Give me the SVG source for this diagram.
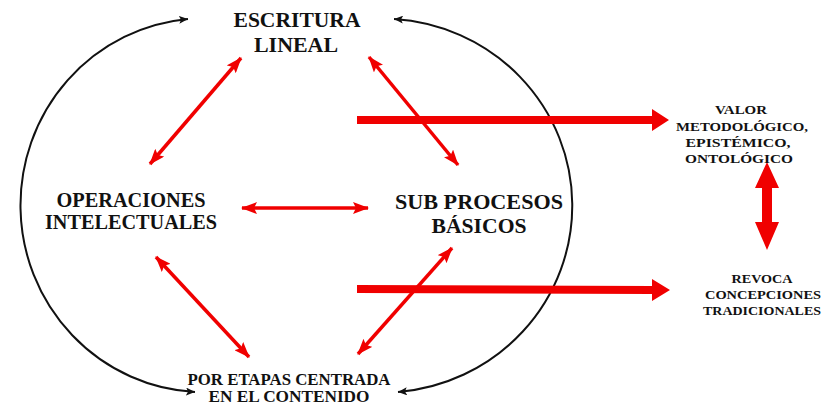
<svg xmlns="http://www.w3.org/2000/svg" width="823" height="404" viewBox="0 0 823 404">
<style>
text{font-family:'Liberation Serif','DejaVu Serif','Noto Serif',serif;font-weight:bold;fill:#111;text-anchor:middle}
.big{font-size:21px}
.mid{font-size:20px}
.sm{font-size:13px}
.por{font-size:16px}
.thin{stroke:#f00000;stroke-width:3.5;fill:none}
.arc{stroke:#111;stroke-width:2;fill:none}
.thick{fill:#f00000}
</style>
<defs>
<marker id="rh" viewBox="0 0 16 12" refX="15" refY="6" markerWidth="16" markerHeight="12" markerUnits="userSpaceOnUse" orient="auto-start-reverse">
<path d="M0,0 L16,6 L0,12 L3,6 z" fill="#f00000"/>
</marker>
<marker id="bh" viewBox="0 0 9 8" refX="9" refY="4" markerWidth="9" markerHeight="8" markerUnits="userSpaceOnUse" orient="auto-start-reverse">
<path d="M0,0 L9,4 L0,8 L2,4 z" fill="#111"/>
</marker>
</defs>
<rect width="823" height="404" fill="#fff"/>
<g id="connectors">
<path class="arc" d="M188,19 A184 187 0 0 0 195,392" marker-start="url(#bh)" marker-end="url(#bh)"/>
<path class="arc" d="M394,19 A190 187 0 0 1 398,392" marker-start="url(#bh)" marker-end="url(#bh)"/>
<line class="thin" x1="241" y1="58" x2="150" y2="164" marker-start="url(#rh)" marker-end="url(#rh)"/>
<line class="thin" x1="369" y1="57" x2="458" y2="165" marker-start="url(#rh)" marker-end="url(#rh)"/>
<line class="thin" x1="242" y1="208" x2="368" y2="208" marker-start="url(#rh)" marker-end="url(#rh)"/>
<line class="thin" x1="156" y1="257" x2="249" y2="357" marker-start="url(#rh)" marker-end="url(#rh)"/>
<line class="thin" x1="452" y1="248" x2="358" y2="354" marker-start="url(#rh)" marker-end="url(#rh)"/>
<polygon class="thick" points="357,116 652,116 652,109 669,120 652,131 652,124 357,124"/>
<polygon class="thick" points="357,285 652,286 652,279 670,290 652,301 652,294 357,293"/>
<polygon class="thick" points="767,162 779,188 772,188 772,222 779,222 767,250 755,222 762,222 762,188 755,188"/>
</g>
<g id="escritura"><text class="big" x="297" y="27" textLength="127" lengthAdjust="spacingAndGlyphs">ESCRITURA</text><text class="big" x="296" y="52" textLength="84" lengthAdjust="spacingAndGlyphs">LINEAL</text></g>
<g id="operaciones"><text class="mid" x="131" y="207" textLength="149" lengthAdjust="spacingAndGlyphs">OPERACIONES</text><text class="mid" x="131" y="229" textLength="172" lengthAdjust="spacingAndGlyphs">INTELECTUALES</text></g>
<g id="subprocesos"><text class="big" x="479" y="209" textLength="168" lengthAdjust="spacingAndGlyphs">SUB PROCESOS</text><text class="big" x="479" y="233" textLength="95" lengthAdjust="spacingAndGlyphs">BÁSICOS</text></g>
<g id="poretapas"><text class="por" x="289" y="385" textLength="203" lengthAdjust="spacingAndGlyphs">POR ETAPAS CENTRADA</text><text class="por" x="289" y="402" textLength="161" lengthAdjust="spacingAndGlyphs">EN EL CONTENIDO</text></g>
<g id="valor"><text class="sm" x="741" y="114" textLength="52" lengthAdjust="spacingAndGlyphs">VALOR</text><text class="sm" x="742" y="131" textLength="132" lengthAdjust="spacingAndGlyphs">METODOLÓGICO,</text><text class="sm" x="738" y="147" textLength="105" lengthAdjust="spacingAndGlyphs">EPISTÉMICO,</text><text class="sm" x="739" y="163" textLength="108" lengthAdjust="spacingAndGlyphs">ONTOLÓGICO</text></g>
<g id="revoca"><text class="sm" x="762" y="283" textLength="61" lengthAdjust="spacingAndGlyphs">REVOCA</text><text class="sm" x="763" y="299" textLength="116" lengthAdjust="spacingAndGlyphs">CONCEPCIONES</text><text class="sm" x="762" y="315" textLength="118" lengthAdjust="spacingAndGlyphs">TRADICIONALES</text></g>
</svg>
